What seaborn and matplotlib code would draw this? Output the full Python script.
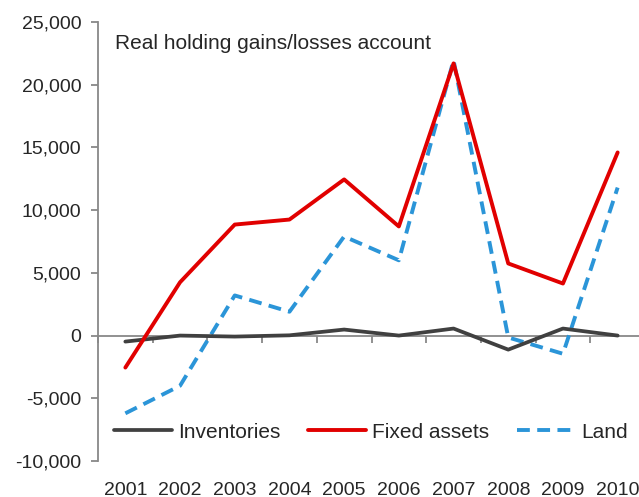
import numpy as np
import pandas as pd
import matplotlib
matplotlib.use('Agg')
import matplotlib.pyplot as plt
import seaborn as sns
from matplotlib.ticker import FuncFormatter, FixedLocator

# Data
years = [2001, 2002, 2003, 2004, 2005, 2006, 2007, 2008, 2009, 2010]
inventories = [-480, 0, -80, 20, 480, 0, 560, -1120, 560, 0]
fixed_assets = [-2550, 4250, 8850, 9250, 12450, 8700, 21700, 5750, 4150, 14600]
land = [-6200, -4000, 3200, 1900, 7900, 6000, 21950, -150, -1450, 11800]

series_names = ['Inventories', 'Fixed assets', 'Land']
colors = ['#404040', '#E10000', '#2B95D8']

df = pd.DataFrame({'year': years, 'Inventories': inventories,
                   'Fixed assets': fixed_assets, 'Land': land})

sns.set_style('white')
plt.rcParams['font.family'] = ['Liberation Sans', 'DejaVu Sans']

fig = plt.figure(figsize=(6.39, 4.97), dpi=100)
# axes extends past the right edge, like the cropped original
ax = fig.add_axes([98 / 639, 1 - 461 / 497, 547 / 639, 439 / 497])

# Land first so the solid lines sit on top where they overlap
sns.lineplot(data=df, x='year', y='Land', color=colors[2], lw=2.8, ax=ax,
             label='Land', zorder=3)
ax.lines[-1].set_dashes((3.3, 1.9))
sns.lineplot(data=df, x='year', y='Inventories', color=colors[0], lw=2.7,
             ax=ax, label='Inventories', zorder=4)
sns.lineplot(data=df, x='year', y='Fixed assets', color=colors[1], lw=2.8,
             ax=ax, label='Fixed assets', zorder=4)

ax.set_xlim(2000.5, 2010.5)
ax.set_ylim(-10000, 25000)
ax.set_yticks(np.arange(-10000, 25001, 5000))
ax.yaxis.set_major_formatter(FuncFormatter(lambda v, p: f'{int(v):,}'))
ax.set_xticks(years)
ax.set_xlabel('')
ax.set_ylabel('')

for s in ['top', 'right', 'bottom']:
    ax.spines[s].set_visible(False)
ax.spines['left'].set_color('#888888')
ax.spines['left'].set_linewidth(1.3)
ax.tick_params(axis='y', direction='out', length=5, width=1.3, color='#888888',
               labelsize=14, pad=7, left=True)
ax.tick_params(axis='x', length=0, labelsize=14, pad=15)

# horizontal axis crossing at zero with category boundary ticks
zero_pos = 10000 / 35000
sec = ax.secondary_xaxis(zero_pos)
sec.spines['bottom'].set_color('#888888')
sec.spines['bottom'].set_linewidth(1.3)
sec.xaxis.set_major_locator(FixedLocator(np.arange(2000.5, 2011, 1)))
sec.tick_params(axis='x', direction='out', length=5, width=1.3, color='#888888',
                labelbottom=False)

ax.text(0.031, 0.952, 'Real holding gains/losses account', transform=ax.transAxes,
        fontsize=15, va='center', ha='left')

handles, labels = ax.get_legend_handles_labels()
order = [labels.index(n) for n in series_names]
ax.legend([handles[i] for i in order], [labels[i] for i in order],
          loc='center left', bbox_to_anchor=(0.029, 0.066), ncol=3, frameon=False,
          fontsize=15, handlelength=2.8, columnspacing=1.3, handletextpad=0.3,
          borderpad=0, borderaxespad=0)

fig.savefig('out.png', dpi=100)
